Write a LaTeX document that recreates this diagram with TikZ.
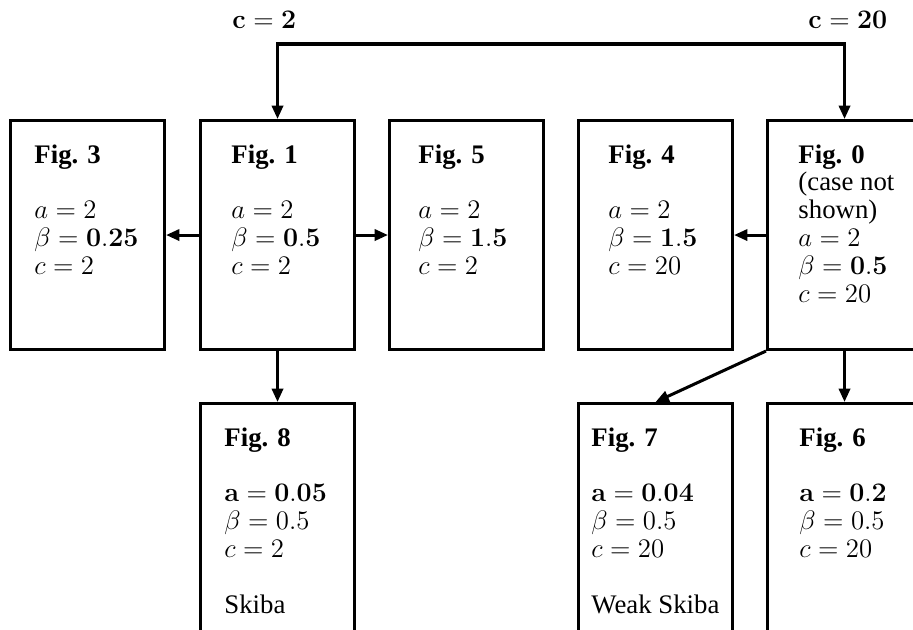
\documentclass[tikz,border=0pt,12pt]{standalone}
\usepackage[no-math]{fontspec}
\setmainfont{Liberation Serif}
\usetikzlibrary{arrows.meta}

\tikzset{
  figbox/.style={draw, line width=1.35pt, minimum width=69pt, minimum height=102.6pt, anchor=north west, inner sep=0pt},
  lowbox/.style={figbox, minimum height=115pt},
  figtext/.style={anchor=north west, align=left, inner sep=0pt, font=\fontsize{12}{12.5}\selectfont},
  toplabel/.style={anchor=base west, inner sep=0pt, font=\fontsize{12}{12.5}\selectfont},
  tip/.tip={Triangle[length=6pt,width=5pt]},
  arr/.style={line width=1.35pt, -tip}
}

\begin{document}
\begin{tikzpicture}[x=0.448pt,y=-0.448pt]
\useasboundingbox (0,0) rectangle (913,629);
\clip (0,0) rectangle (913,629);
\node[figbox] (f3) at (9,119) {};
\node[figbox] (f1) at (199,119) {};
\node[figbox] (f5) at (388,119) {};
\node[figbox] (f4) at (577,119) {};
\node[figbox] (f0) at (766,119) {};
\node[lowbox] (f8) at (199,402) {};
\node[lowbox] (f7) at (577,402) {};
\node[lowbox] (f6) at (766,402) {};
\node[figtext] (t3) at (34,144) {\textbf{Fig. 3}\\[12.5pt] $a=2$\\ $\beta=\mathbf{0.25}$\\ $c=2$};
\node[figtext] (t1) at (231,144) {\textbf{Fig. 1}\\[12.5pt] $a=2$\\ $\beta=\mathbf{0.5}$\\ $c=2$};
\node[figtext] (t5) at (418,144) {\textbf{Fig. 5}\\[12.5pt] $a=2$\\ $\beta=\mathbf{1.5}$\\ $c=2$};
\node[figtext] (t4) at (608,144) {\textbf{Fig. 4}\\[12.5pt] $a=2$\\ $\beta=\mathbf{1.5}$\\ $c=20$};
\node[figtext] (t0) at (798,144) {\textbf{Fig. 0}\\ (case not\\ shown)\\ $a=2$\\ $\beta=\mathbf{0.5}$\\ $c=20$};
\node[figtext] (t8) at (224,427) {\textbf{Fig. 8}\\[12.5pt] $\mathbf{a=0.05}$\\ $\beta=0.5$\\ $c=2$\\[12.5pt] Skiba};
\node[figtext] (t7) at (591,427) {\textbf{Fig. 7}\\[12.5pt] $\mathbf{a=0.04}$\\ $\beta=0.5$\\ $c=20$\\[12.5pt] Weak Skiba};
\node[figtext] (t6) at (799,427) {\textbf{Fig. 6}\\[12.5pt] $\mathbf{a=0.2}$\\ $\beta=0.5$\\ $c=20$};
\node[toplabel] (lab2) at (232,28) {$\mathbf{c=2}$};
\node[toplabel] (lab20) at (808,28) {$\mathbf{c=20}$};
\coordinate (ytop) at (0,44);
\coordinate (lc) at (f1.north |- ytop);
\coordinate (rc) at (f0.north |- ytop);
\draw[line width=1.35pt, tip-tip] (f1.north) -- (lc) -- (rc) -- (f0.north);
\draw[arr] (f1.west) -- (f3.east);
\draw[arr] (f1.east) -- (f5.west);
\draw[arr] (f0.west) -- (f4.east);
\draw[arr] (f1.south) -- (f8.north);
\draw[arr] (f0.south) -- (f6.north);
\draw[arr] (f0.south west) -- (f7.north);
\end{tikzpicture}
\end{document}
